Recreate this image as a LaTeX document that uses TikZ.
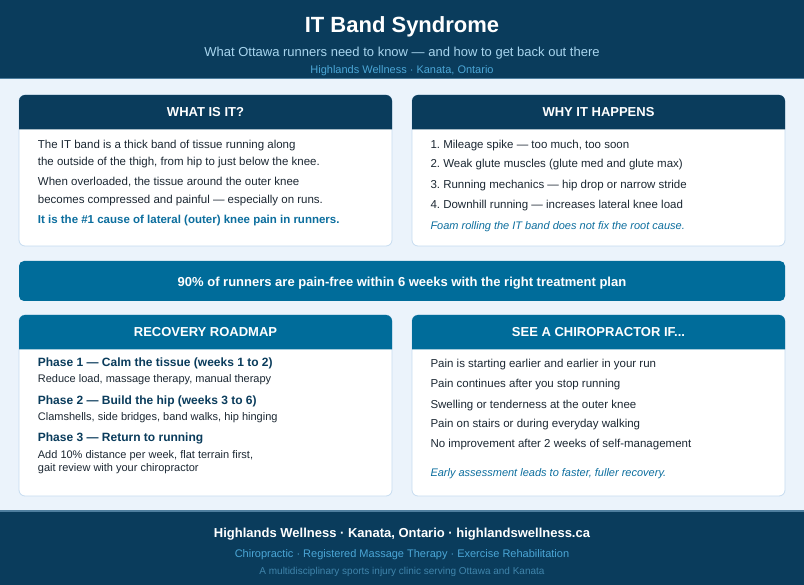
\documentclass[tikz,border=0pt]{standalone}
\usepackage{fontspec}
\setmainfont{Liberation Sans}
\frenchspacing
\definecolor{cNavy}{HTML}{0A3C5C}
\definecolor{cBlue}{HTML}{006C9A}
\definecolor{cBg}{HTML}{EBF3FB}
\definecolor{cBorder}{HTML}{C6DCF0}
\definecolor{cText}{HTML}{1C2833}
\definecolor{cLink}{HTML}{0C6E9E}
\definecolor{cSub}{HTML}{A8D5EE}
\definecolor{cTag}{HTML}{4BA6D6}
\definecolor{cDim}{HTML}{3F84AB}
\definecolor{cRule}{HTML}{4E7E9E}
\newcommand\myfs[1]{\fontsize{#1}{#1}\selectfont}
\tikzset{
  body/.style={fill=white, draw=cBorder, line width=0.8pt, rounded corners=6pt},
  line/.style={anchor=base west, inner sep=0pt, text=cText, font=\myfs{11.5}},
  small/.style={anchor=base west, inner sep=0pt, text=cText, font=\myfs{11}},
  phase/.style={anchor=base west, inner sep=0pt, text=cNavy, font=\myfs{12}\bfseries},
  note/.style={anchor=base west, inner sep=0pt, text=cLink, font=\myfs{11}\itshape},
  keyline/.style={anchor=base west, inner sep=0pt, text=cLink, font=\myfs{11.5}\bfseries},
  cardtitle/.style={anchor=base, inner sep=0pt, text=white, font=\myfs{13}\bfseries},
  ctr/.style={anchor=base, inner sep=0pt},
}
\begin{document}
\begin{tikzpicture}[x=1pt,y=-1pt]
\useasboundingbox (0,0) rectangle (804,585);
% background
\fill[cBg] (0,0) rectangle (804,585);
% header
\fill[cNavy] (0,0) rectangle (804,78.5);
\fill[cRule] (0,78) rectangle (804,79.5);
\node[ctr, text=white, font=\myfs{22}\bfseries] (title) at (402,33) {IT Band Syndrome};
\node[ctr, text=cSub, font=\myfs{13}] (subtitle) at (402,57) {What Ottawa runners need to know — and how to get back out there};
\node[ctr, text=cTag, font=\myfs{11}] (tagline) at (402,73.3) {Highlands Wellness · Kanata, Ontario};

% card 1
\path[body] (19,95) rectangle (392,246);
\fill[cNavy] (19,129.5) [rounded corners=6pt] -- (19,95) -- (392,95) [sharp corners] -- (392,129.5) -- cycle;
\node[cardtitle] (t1) at (205.5,117) {WHAT IS IT?};
\node[line] (a1) at (37.7,148.3) {The IT band is a thick band of tissue running along};
\node[line] (a2) at (37.7,165.7) {the outside of the thigh, from hip to just below the knee.};
\node[line] (a3) at (37.7,186) {When overloaded, the tissue around the outer knee};
\node[line] (a4) at (37.7,203.3) {becomes compressed and painful — especially on runs.};
\node[keyline] (a5) at (37.7,224) {It is the \#1 cause of lateral (outer) knee pain in runners.};

% card 2
\path[body] (412,95) rectangle (785,246);
\fill[cNavy] (412,129.5) [rounded corners=6pt] -- (412,95) -- (785,95) [sharp corners] -- (785,129.5) -- cycle;
\node[cardtitle] (t2) at (598.5,117) {WHY IT HAPPENS};
\node[line] (b1) at (430.3,148.3) {1. Mileage spike — too much, too soon};
\node[line] (b2) at (430.3,168) {2. Weak glute muscles (glute med and glute max)};
\node[line] (b3) at (430.3,188.3) {3. Running mechanics — hip drop or narrow stride};
\node[line] (b4) at (430.3,208.3) {4. Downhill running — increases lateral knee load};
\node[note] (b5) at (430.3,229.5) {Foam rolling the IT band does not fix the root cause.};

% banner
\fill[cBlue, rounded corners=5pt] (19,261) rectangle (785,301);
\node[ctr, text=white, font=\myfs{13}\bfseries] (banner) at (402,286.7) {90\% of runners are pain-free within 6 weeks with the right treatment plan};

% card 3
\path[body] (19,315) rectangle (392,496);
\fill[cBlue] (19,349.5) [rounded corners=6pt] -- (19,315) -- (392,315) [sharp corners] -- (392,349.5) -- cycle;
\node[cardtitle] (t3) at (205.5,337) {RECOVERY ROADMAP};
\node[phase] (p1) at (37.7,366.5) {Phase 1 — Calm the tissue (weeks 1 to 2)};
\node[small] (p1d) at (37.7,383) {Reduce load, massage therapy, manual therapy};
\node[phase] (p2) at (37.7,404.3) {Phase 2 — Build the hip (weeks 3 to 6)};
\node[small] (p2d) at (37.7,420.7) {Clamshells, side bridges, band walks, hip hinging};
\node[phase] (p3) at (37.7,442) {Phase 3 — Return to running};
\node[small] (p3d) at (37.7,458.3) {Add 10\% distance per week, flat terrain first,};
\node[small] (p3e) at (37.7,471.7) {gait review with your chiropractor};

% card 4
\path[body] (412,315) rectangle (785,496);
\fill[cBlue] (412,349.5) [rounded corners=6pt] -- (412,315) -- (785,315) [sharp corners] -- (785,349.5) -- cycle;
\node[cardtitle] (t4) at (598.5,337) {SEE A CHIROPRACTOR IF...};
\node[line] (c1) at (430.3,368) {Pain is starting earlier and earlier in your run};
\node[line] (c2) at (430.3,388) {Pain continues after you stop running};
\node[line] (c3) at (430.3,408.3) {Swelling or tenderness at the outer knee};
\node[line] (c4) at (430.3,428) {Pain on stairs or during everyday walking};
\node[line] (c5) at (430.3,448) {No improvement after 2 weeks of self-management};
\node[note] (c6) at (430.3,476.5) {Early assessment leads to faster, fuller recovery.};

% footer
\fill[cNavy] (0,510.5) rectangle (804,585);
\fill[cRule] (0,510) rectangle (804,511.5);
\node[ctr, text=white, font=\myfs{13}\bfseries] (f1) at (402,537.8) {Highlands Wellness · Kanata, Ontario · highlandswellness.ca};
\node[ctr, text=cTag, font=\myfs{11}] (f2) at (402,557.3) {Chiropractic · Registered Massage Therapy · Exercise Rehabilitation};
\node[ctr, text=cDim, font=\myfs{10}] (f3) at (402,574) {A multidisciplinary sports injury clinic serving Ottawa and Kanata};
\end{tikzpicture}
\end{document}
